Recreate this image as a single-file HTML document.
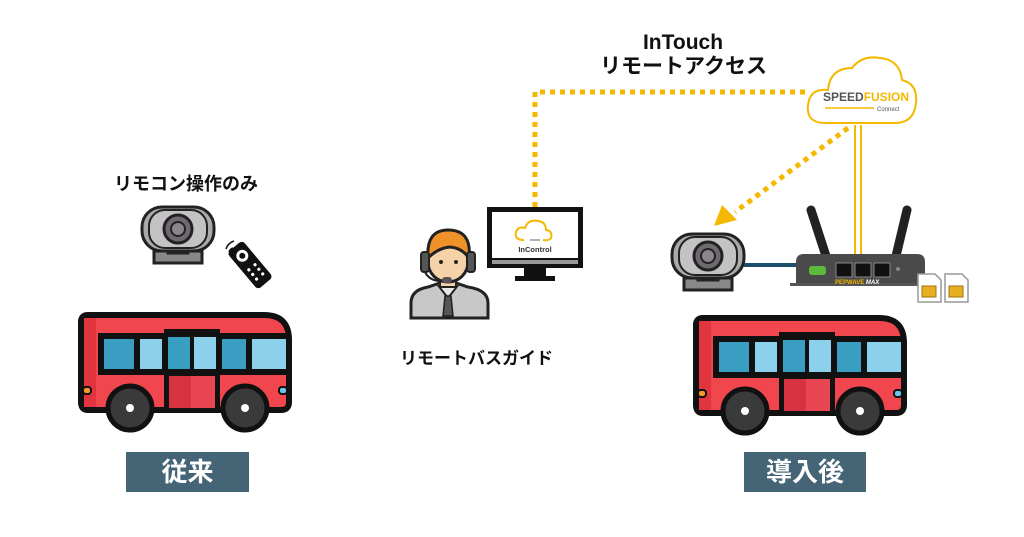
<!DOCTYPE html>
<html><head><meta charset="utf-8"><style>
html,body{margin:0;padding:0;background:#fff;}
body{width:1024px;height:537px;position:relative;overflow:hidden;font-family:"Liberation Sans","Noto Sans CJK JP",sans-serif;}
.t{position:absolute;font-weight:bold;color:#111;white-space:nowrap;}
.lab{position:absolute;background:#456577;color:#fff;font-weight:bold;font-size:26px;text-align:center;line-height:40px;height:40px;}
</style></head><body>
<svg width="1024" height="537" style="position:absolute;left:0;top:0">
<defs>
<g id="bus">
 <path d="M3,10 Q3,3 10,3 H186 Q211,3 211,28 V90 Q211,98 203,98 H10 Q3,98 3,90 Z" fill="#f2464f" stroke="#111" stroke-width="6"/>
 <rect x="6" y="6" width="12" height="89" fill="#e0353f"/>
 <rect x="20" y="21" width="191" height="42" fill="#111"/>
 <rect x="26" y="27" width="30" height="30" fill="#3a9ec2"/>
 <rect x="62" y="27" width="22" height="30" fill="#8cd0ec"/>
 <rect x="90" y="23" width="22" height="34" fill="#3a9ec2"/>
 <rect x="116" y="23" width="22" height="34" fill="#8cd0ec"/>
 <rect x="144" y="27" width="24" height="30" fill="#3a9ec2"/>
 <rect x="174" y="27" width="34" height="30" fill="#8cd0ec"/>
 <rect x="86" y="17" width="56" height="8" fill="#111"/>
 <rect x="86" y="60" width="56" height="38" fill="#111"/>
 <rect x="91" y="64" width="22" height="32" fill="#d63340"/>
 <rect x="113" y="64" width="24" height="32" fill="#e84652"/>
 <rect x="5" y="75" width="8" height="7" rx="3" fill="#f59a2a" stroke="#111" stroke-width="2"/>
 <rect x="201" y="75" width="8" height="7" rx="3" fill="#6cc7e8" stroke="#111" stroke-width="2"/>
 <circle cx="52" cy="96" r="22" fill="#3a3a3a" stroke="#111" stroke-width="5"/>
 <circle cx="52" cy="96" r="4" fill="#fff"/>
 <circle cx="167" cy="96" r="22" fill="#3a3a3a" stroke="#111" stroke-width="5"/>
 <circle cx="167" cy="96" r="4" fill="#fff"/>
</g>
<g id="cam">
 <rect x="14" y="46" width="48" height="12" fill="#888" stroke="#222" stroke-width="3"/>
 <rect x="28" y="40" width="20" height="8" fill="#888" stroke="#222" stroke-width="3"/>
 <rect x="2" y="2" width="72" height="44" rx="20" fill="#aaa" stroke="#222" stroke-width="3"/>
 <rect x="9" y="5" width="58" height="38" rx="16" fill="#c4c2c4" stroke="#222" stroke-width="2"/>
 <circle cx="38" cy="24" r="14" fill="#6e6a70" stroke="#222" stroke-width="3"/>
 <circle cx="38" cy="24" r="7" fill="#8a868c" stroke="#222" stroke-width="2"/>
</g>
</defs>

<polyline points="535,207 535,92 810,92" fill="none" stroke="#f5b800" stroke-width="5" stroke-dasharray="5,5"/>
<line x1="855" y1="125" x2="855" y2="262" stroke="#f5b800" stroke-width="2"/>
<line x1="861" y1="125" x2="861" y2="262" stroke="#f5b800" stroke-width="2"/>
<line x1="848" y1="128" x2="735" y2="212" stroke="#f5b800" stroke-width="5" stroke-dasharray="5,5"/>
<polygon points="714,226 722,205 737,220" fill="#f5b800"/>

<path d="M825,123 Q806,123 808,105 Q810,88 828,90 Q830,68 852,68 Q862,55 880,58 Q900,60 902,80 Q918,84 916,103 Q914,123 895,123 Z" fill="#fff" stroke="#f5b800" stroke-width="2"/>
<text x="823" y="101" font-family="Liberation Sans Narrow,Liberation Sans,sans-serif" font-weight="bold" font-size="12" fill="#555">SPEED<tspan fill="#f5b800">FUSION</tspan></text>
<line x1="825" y1="108" x2="874" y2="108" stroke="#f5b800" stroke-width="1.5"/>
<text x="877" y="111" font-family="Liberation Sans,sans-serif" font-size="6" fill="#555">Connect</text>

<use href="#cam" x="140" y="205"/>
<g transform="translate(250,265) rotate(-40)">
 <rect x="-10" y="-24" width="20" height="48" rx="4" fill="#111"/>
 <circle cx="0" cy="-12" r="6" fill="#fff"/><circle cx="0" cy="-12" r="3" fill="#111"/>
 <circle cx="-4" cy="3" r="1.6" fill="#fff"/><circle cx="4" cy="3" r="1.6" fill="#fff"/>
 <circle cx="-4" cy="9" r="1.6" fill="#fff"/><circle cx="4" cy="9" r="1.6" fill="#fff"/>
 <circle cx="-4" cy="15" r="1.6" fill="#fff"/><circle cx="4" cy="15" r="1.6" fill="#fff"/>
</g>
<path d="M226,249 q2,-6 8,-8 M229,252 q1,-3 4,-4" stroke="#111" stroke-width="1.5" fill="none"/>

<use href="#bus" x="78" y="312"/>

<path d="M411,318 V303 Q411,290 428,287 L440,283 H456 L468,287 Q488,290 488,303 V318 Z" fill="#c8c8c8" stroke="#222" stroke-width="3"/>
<path d="M437,284 L448,298 L459,284" fill="#e8e8e8" stroke="#222" stroke-width="2"/>
<path d="M445,296 h6 l2,20 h-10 z" fill="#555" stroke="#222" stroke-width="1.5"/>
<rect x="440" y="275" width="16" height="12" fill="#f6d2a8" stroke="#222" stroke-width="2"/>
<circle cx="448" cy="262" r="20" fill="#f6d2a8" stroke="#222" stroke-width="3"/>
<path d="M428,258 Q426,230 448,230 Q472,230 469,258 Q462,248 450,247 Q438,248 428,258 Z" fill="#f0922a" stroke="#222" stroke-width="3"/>
<rect x="421" y="252" width="8" height="20" rx="3" fill="#555" stroke="#222" stroke-width="2"/>
<rect x="467" y="252" width="8" height="20" rx="3" fill="#555" stroke="#222" stroke-width="2"/>
<path d="M425,272 Q430,282 444,281" stroke="#222" stroke-width="2" fill="none"/>
<rect x="442" y="277" width="10" height="6" rx="3" fill="#555"/>
<circle cx="441" cy="262" r="2" fill="#222"/><circle cx="456" cy="262" r="2" fill="#222"/>

<rect x="487" y="207" width="96" height="61" fill="#111"/>
<rect x="492" y="212" width="86" height="46" fill="#fff"/>
<rect x="492" y="260" width="86" height="4" fill="#999"/>
<rect x="524" y="268" width="22" height="9" fill="#111"/>
<rect x="515" y="276" width="40" height="5" fill="#111"/>
<path d="M524,240 Q514,240 516,232 Q518,226 525,228 Q528,219 538,221 Q546,222 546,230 Q553,231 551,238 Q549,241 543,240" fill="none" stroke="#f5b800" stroke-width="2"/>
<line x1="530" y1="240" x2="540" y2="240" stroke="#666" stroke-width="1"/>
<text x="535" y="252" text-anchor="middle" font-family="Liberation Sans,sans-serif" font-weight="bold" font-size="7.5" fill="#333">InControl</text>

<line x1="744" y1="265" x2="800" y2="265" stroke="#1d4e6b" stroke-width="4"/>
<use href="#cam" x="670" y="232"/>

<line x1="811" y1="210" x2="826" y2="256" stroke="#222" stroke-width="9" stroke-linecap="round"/>
<line x1="907" y1="210" x2="896" y2="256" stroke="#222" stroke-width="9" stroke-linecap="round"/>
<path d="M796,285 V262 Q796,254 804,254 H917 Q925,254 925,262 V285 Z" fill="#4a4a4a"/>
<rect x="790" y="283" width="138" height="3" fill="#555"/>
<rect x="809" y="266" width="17" height="9" rx="3" fill="#5dba3c"/>
<rect x="836" y="263" width="16" height="14" fill="#111" stroke="#888" stroke-width="1"/>
<rect x="855" y="263" width="16" height="14" fill="#111" stroke="#888" stroke-width="1"/>
<rect x="874" y="263" width="16" height="14" fill="#111" stroke="#888" stroke-width="1"/>
<circle cx="898" cy="269" r="2" fill="#888"/>
<text x="835" y="284" font-family="Liberation Sans,sans-serif" font-weight="bold" font-size="6" fill="#f5b800">PEPWAVE <tspan fill="#fff" font-style="italic">MAX</tspan></text>
<path d="M918,302 V274 H935 L941,280 V302 Z" fill="#fff" stroke="#999" stroke-width="1.5"/>
<rect x="922" y="286" width="14" height="11" fill="#e8b020" stroke="#a07010" stroke-width="1"/>
<path d="M945,302 V274 H962 L968,280 V302 Z" fill="#fff" stroke="#999" stroke-width="1.5"/>
<rect x="949" y="286" width="14" height="11" fill="#e8b020" stroke="#a07010" stroke-width="1"/>

<use href="#bus" x="693" y="315"/>
</svg>

<div class="t" style="left:600px;top:31px;width:166px;text-align:center;font-size:21px;line-height:24px;">InTouch<br>リモートアクセス</div>
<div class="t" style="left:96px;top:170px;width:180px;text-align:center;font-size:18px;">リモコン操作のみ</div>
<div class="t" style="left:400px;top:344px;width:150px;text-align:center;font-size:17px;">リモートバスガイド</div>
<div class="lab" style="left:126px;top:452px;width:123px;">従来</div>
<div class="lab" style="left:744px;top:452px;width:122px;">導入後</div>
</body></html>
